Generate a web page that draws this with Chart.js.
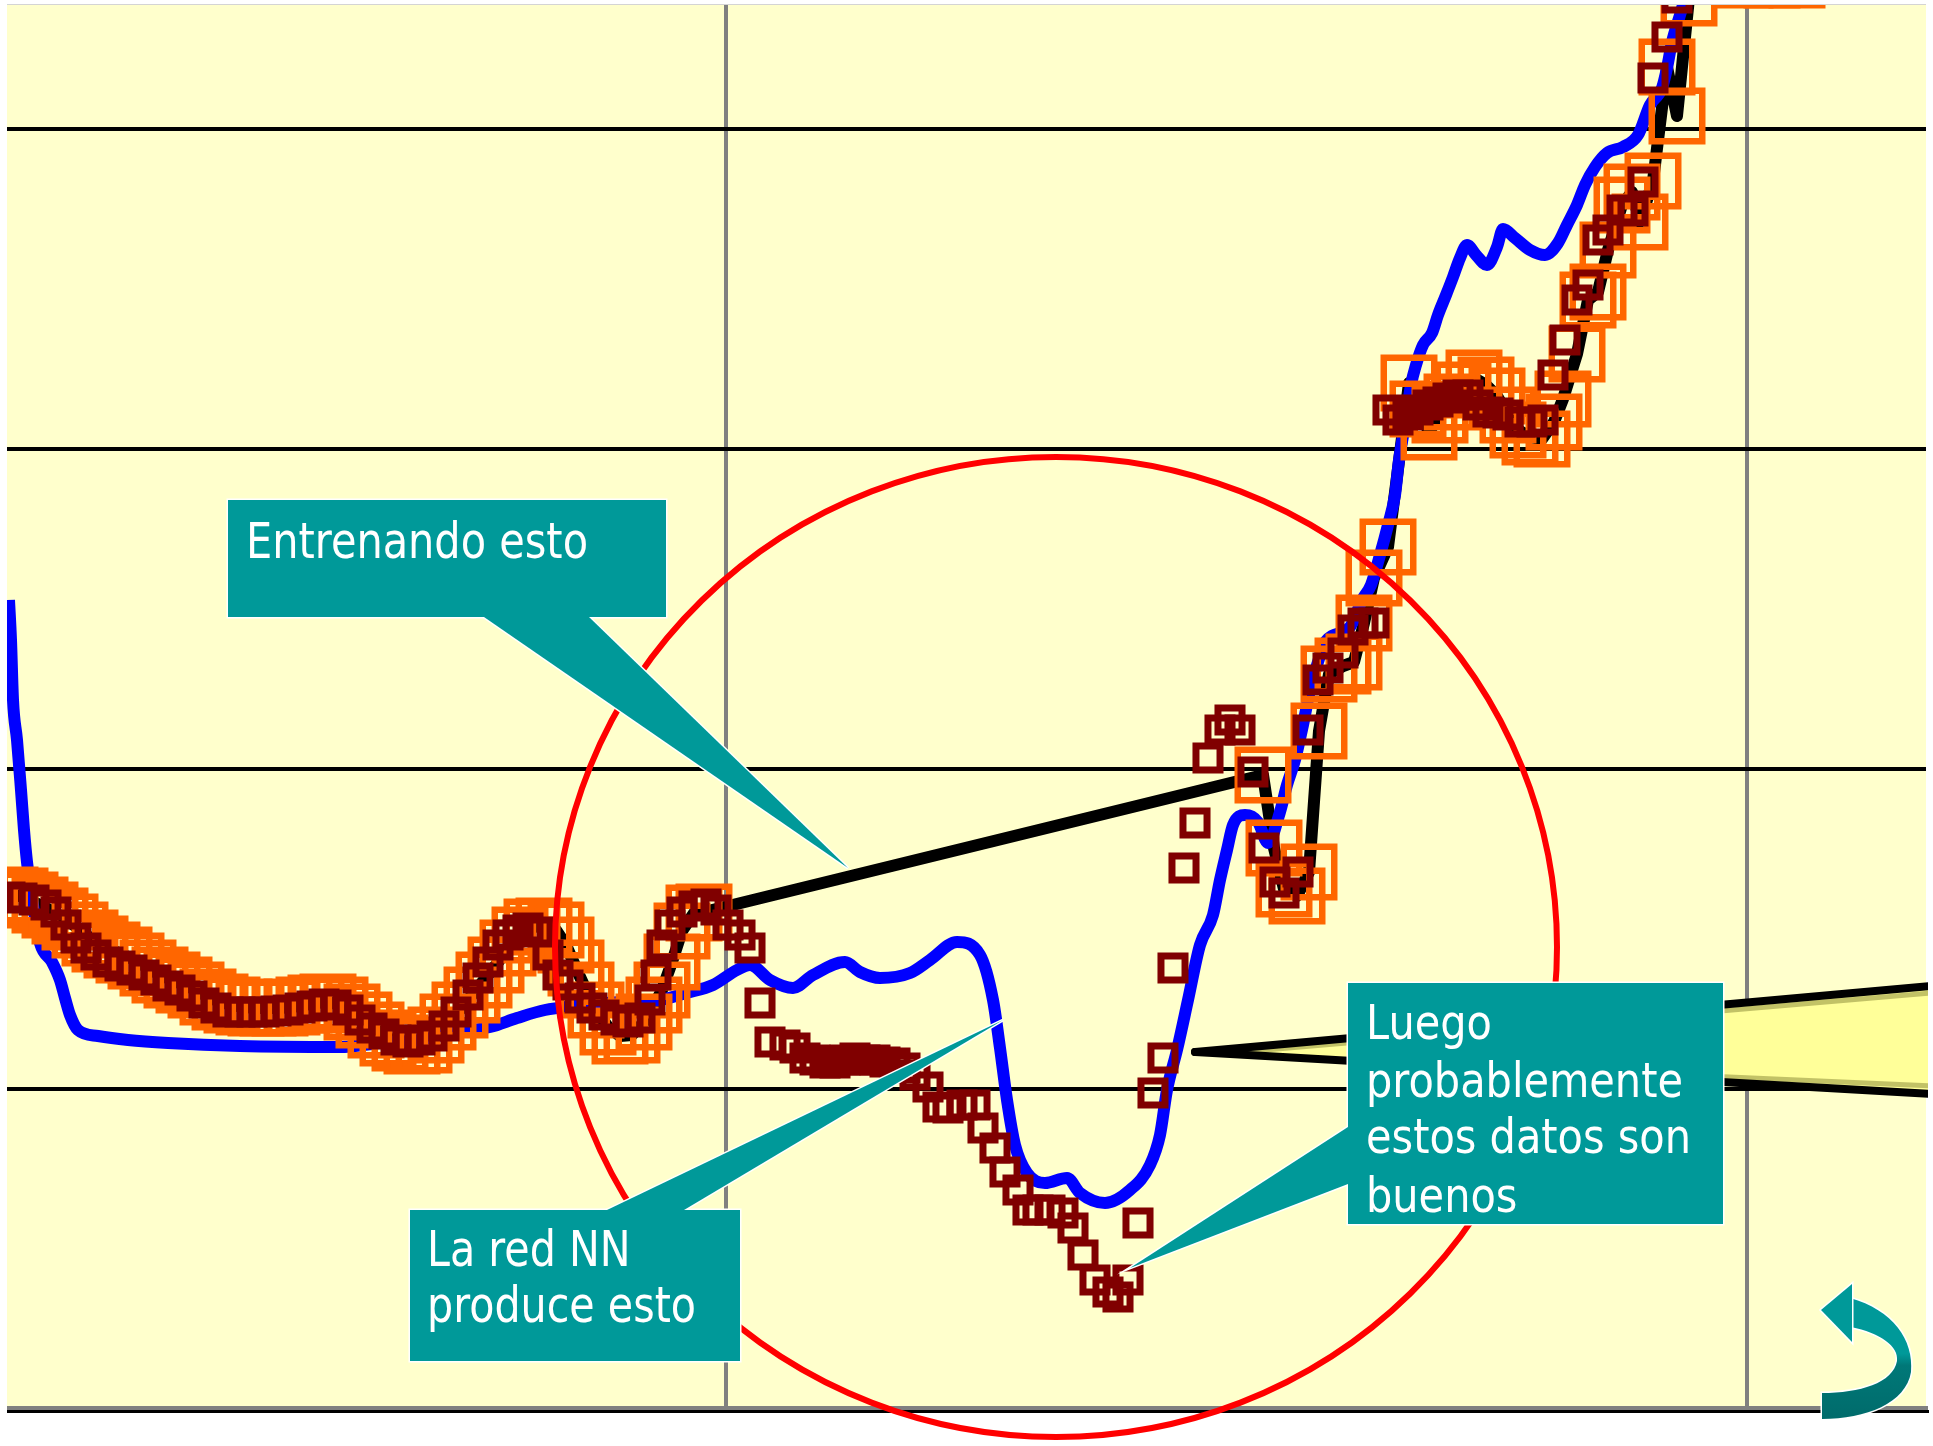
<!DOCTYPE html>
<html><head><meta charset="utf-8">
<script src="https://cdn.jsdelivr.net/npm/chart.js@4.4.1/dist/chart.umd.min.js"></script>
<style>html,body{margin:0;padding:0;background:#fff;overflow:hidden}#wrap{width:1933px;height:1446px;position:relative}</style>
</head><body><div id="wrap"><canvas id="c"></canvas></div>
<script>
// ---- data (x: time units, y: value units) ----
const blueLine = [[0.2,80.9],[0.4,76.9],[0.6,70.9],[1.0,66.9],[1.4,61.9],[1.7,57.9],[2.0,54.7],[2.6,50.4],[3.3,46.6],[4.5,44.7],[5.3,42.9],[5.8,41.1],[6.3,39.4],[7.1,37.9],[9.1,37.3],[12.1,36.9],[16.1,36.6],[23.3,36.3],[33.3,36.2],[37.3,36.6],[41.3,36.9],[45.0,37.7],[48.3,38.2],[51.0,39.1],[53.8,39.9],[56.8,40.3],[61.3,40.7],[65.3,40.9],[67.9,41.6],[70.6,42.4],[73.0,43.9],[74.3,44.4],[76.3,42.9],[78.6,42.1],[80.6,43.4],[83.8,44.7],[85.3,43.7],[87.3,43.1],[90.3,43.6],[92.3,44.9],[95.0,46.7],[97.3,45.4],[98.6,40.9],[99.3,36.1],[100.0,30.9],[100.8,26.4],[102.0,23.6],[103.8,22.6],[106.0,23.1],[107.3,21.6],[109.8,20.6],[112.3,21.9],[114.3,24.4],[115.3,27.4],[116.0,31.9],[117.0,35.9],[118.1,40.9],[119.3,46.4],[120.6,49.4],[121.3,52.9],[122.0,55.9],[122.6,58.4],[123.8,59.4],[125.1,58.7],[126.1,56.6],[127.3,59.7],[128.0,62.4],[128.8,64.9],[129.6,68.4],[130.3,71.9],[131.1,74.7],[131.8,76.7],[134.3,78.2],[135.5,80.9],[136.4,82.4],[137.3,85.4],[138.1,88.4],[138.8,91.4],[139.2,94.9],[139.8,98.4],[140.4,102.4],[140.9,104.4],[141.6,106.4],[142.5,107.6],[143.1,109.4],[143.9,111.4],[144.6,113.2],[145.3,115.1],[146.0,116.4],[146.9,115.4],[148.0,114.4],[149.0,116.2],[149.6,118.0],[150.8,117.1],[152.3,115.9],[153.8,115.4],[155.1,116.6],[156.0,118.4],[157.0,120.4],[157.8,122.4],[158.8,124.2],[160.0,125.6],[161.6,126.2],[163.1,127.4],[164.3,130.4],[165.5,132.1],[166.0,134.1],[166.5,136.7],[167.3,139.4],[167.9,141.4]];

const targetPoints = [[0.3,51.4],[1.3,51.3],[2.3,50.9],[3.3,50.4],[4.3,49.9],[5.3,49.3],[6.3,48.7],[7.3,47.9],[8.3,47.1],[9.3,46.5],[10.5,45.9],[11.7,45.4],[12.9,44.8],[14.1,44.1],[15.3,43.4],[16.5,42.9],[17.7,42.4],[18.9,41.9],[20.1,41.2],[21.3,40.7],[22.5,40.4],[23.7,40.2],[24.9,40.1],[26.1,40.1],[27.3,40.1],[28.5,40.2],[29.7,40.4],[30.9,40.6],[32.1,40.7],[33.3,40.4],[34.5,39.7],[35.7,38.9],[36.9,37.9],[38.1,37.1],[39.3,36.6],[40.5,36.3],[41.7,36.4],[42.9,37.4],[44.1,38.7],[45.3,39.9],[46.5,41.4],[47.7,42.9],[48.9,44.4],[50.1,46.1],[51.3,47.4],[52.5,48.2],[53.7,48.3],[54.9,47.9],[55.9,46.4],[56.9,44.1],[57.9,41.9],[58.9,39.9],[60.1,38.2],[61.3,37.3],[62.5,37.4],[63.7,38.7],[64.7,40.4],[65.5,41.9],[66.5,44.7],[67.5,47.8],[68.7,49.6],[69.7,49.7],
[125.6,63.4],[126.7,56.1],[127.7,52.0],[129.0,51.3],[130.2,53.7],[131.2,67.8],[132.2,73.5],[133.6,74.3],[134.7,74.7],[135.7,78.6],[136.7,83.1],[138.1,86.2],[140.2,102.6],[141.1,100.0],[142.2,97.7],[143.3,99.4],[144.5,100.7],[145.6,101.9],[146.7,103.1],[147.9,102.4],[149.0,101.3],[150.1,99.4],[151.1,97.9],[152.3,97.2],[153.5,97.0],[154.7,98.7],[155.6,101.0],[157.0,105.5],[158.1,110.9],[159.1,111.7],[160.1,115.9],[161.5,120.4],[162.5,121.7],[163.3,118.7],[164.6,122.8],[166.0,134.2],[167.0,129.3],[168.2,141.1],[173.8,142.9],[176.5,142.9],[179.0,142.9]];

const netOutput = [[0.3,51.2],[1.5,51.1],[2.7,50.9],[3.9,50.4],[4.9,49.7],[5.9,48.4],[6.9,47.1],[7.9,46.1],[8.9,45.4],[10.1,44.7],[11.3,44.3],[12.5,43.9],[13.7,43.4],[14.9,42.9],[16.1,42.3],[17.3,41.9],[18.5,41.3],[19.7,40.6],[20.9,40.1],[22.1,39.7],[23.3,39.7],[24.5,39.7],[25.7,39.7],[26.9,39.8],[28.1,39.9],[29.3,40.1],[30.5,40.3],[31.7,40.5],[32.9,40.4],[34.1,39.9],[35.3,38.9],[36.5,38.1],[37.7,37.5],[38.9,36.9],[40.1,36.7],[41.3,36.9],[42.5,37.3],[43.7,38.3],[44.9,39.7],[46.1,41.4],[47.1,43.1],[48.1,44.7],[49.1,46.4],[50.1,47.4],[51.1,47.9],[52.1,48.1],[53.1,47.7],[54.1,45.4],[55.1,43.4],[56.1,42.4],[57.3,41.1],[58.5,40.1],[59.7,39.4],[60.9,38.9],[62.1,38.7],[63.3,39.1],[64.3,40.9],[64.9,43.4],[65.5,46.4],[66.3,48.4],[67.5,49.7],[68.7,50.3],[69.9,50.5],[70.9,49.9],[72.1,48.4],[73.3,47.4],[74.3,46.1],
[75.3,40.6],[76.3,36.7],[77.8,36.4],[78.8,36.1],[79.8,35.1],[80.8,34.9],[81.8,34.6],[82.8,34.6],[83.8,34.9],[84.8,35.1],[85.8,34.9],[86.8,34.9],[87.8,34.7],[88.8,34.6],[89.8,34.1],[90.8,33.4],[92.1,32.2],[93.1,30.2],[94.1,30.1],[95.5,30.4],[96.8,30.4],[97.6,28.1],[98.8,26.1],[99.8,23.7],[101.1,21.9],[102.1,19.9],[103.1,19.9],[104.3,19.9],[105.6,19.6],[106.6,18.1],[107.6,15.4],[108.8,12.9],[110.1,11.7],[111.1,11.2],[112.1,12.9],[113.1,18.6],[114.6,31.6],[115.6,35.1],[116.6,44.1],[117.7,54.1],[118.8,58.6],[120.1,65.1],[121.3,67.9],[122.3,68.9],[123.3,67.9],[124.6,63.7],[125.7,56.1],[126.8,52.7],[127.7,51.6],[129.1,53.7],[130.1,67.9],[131.1,72.9],[132.1,74.1],[133.6,75.6],[134.6,77.9],[135.6,78.6],[136.7,78.6],
[138.1,99.9],[139.1,98.9],[140.1,99.4],[141.1,99.9],[142.1,100.4],[143.1,100.7],[144.1,101.1],[145.1,101.4],[146.1,101.4],[147.1,100.4],[148.1,99.7],[149.1,99.6],[150.1,99.4],[151.3,98.7],[152.5,98.7],[153.6,98.9],[154.6,103.4],[155.8,106.9],[157.0,110.9],[158.1,112.4],[159.1,116.9],[160.1,117.9],[161.5,119.9],[162.6,119.8],[163.6,122.7],[164.6,133.1],[166.0,137.2],[167.0,141.1]];

const xGridTicks = [71.9, 174.0];
const yGridTicks = [32, 64, 96, 128];
const calloutTraining = ["Entrenando esto"];
const calloutNetwork = ["La red NN", "produce esto"];
const calloutGood = ["Luego", "probablemente", "estos datos son", "buenos"];

const toXY = arr => arr.map(p => ({x: p[0], y: p[1]}));

// ---- decorative plugins ----
function callout(ctx, box, ptr, lines, tx, baselines, refIdx, refW, fontPx) {
  ctx.save();
  ctx.lineJoin = 'miter';
  ctx.strokeStyle = '#FFFFFF';
  ctx.lineWidth = 3;
  ctx.strokeRect(box[0], box[1], box[2]-box[0], box[3]-box[1]);
  ctx.beginPath(); ctx.moveTo(ptr[0][0], ptr[0][1]); ctx.lineTo(ptr[2][0], ptr[2][1]); ctx.lineTo(ptr[1][0], ptr[1][1]); ctx.stroke();
  ctx.fillStyle = '#009999';
  ctx.fillRect(box[0], box[1], box[2]-box[0], box[3]-box[1]);
  ctx.beginPath(); ctx.moveTo(ptr[0][0], ptr[0][1]); ctx.lineTo(ptr[2][0], ptr[2][1]); ctx.lineTo(ptr[1][0], ptr[1][1]); ctx.closePath(); ctx.fill();
  ctx.font = fontPx + 'px "DejaVu Sans"';
  ctx.fillStyle = '#FFFFFF';
  ctx.textBaseline = 'alphabetic';
  const sx = refW / ctx.measureText(lines[refIdx]).width;
  lines.forEach((t, i) => {
    ctx.save(); ctx.translate(tx, baselines[i]); ctx.scale(sx, 1); ctx.fillText(t, 0, 0); ctx.restore();
  });
  ctx.restore();
}

const framePlugin = {
  id: 'frame',
  beforeDraw(chart) {
    const {ctx, chartArea: a} = chart;
    ctx.save();
    ctx.fillStyle = '#FFFFCC';
    ctx.fillRect(a.left, a.top, a.right - a.left, a.bottom - a.top);
    ctx.restore();
  },
  beforeDatasetsDraw(chart) {
    const {ctx, chartArea: a} = chart;
    const y0 = Math.round(chart.scales.y.getPixelForValue(0));
    ctx.save();
    ctx.fillStyle = '#D4D4D4';
    ctx.fillRect(a.left, a.top - 1, a.right - a.left, 1);
    ctx.fillStyle = '#808080';
    ctx.fillRect(a.left, y0 - 3, a.right - a.left + 2, 4);
    ctx.fillStyle = '#000000';
    ctx.fillRect(a.left, y0 + 1, a.right - a.left + 3, 3);
    ctx.restore();
  },
  afterDatasetsDraw(chart) {
    const {ctx} = chart;
    ctx.save();
    // red circle
    ctx.beginPath();
    ctx.ellipse(1056, 947, 501, 490, 0, 0, Math.PI * 2);
    ctx.strokeStyle = '#FF0000';
    ctx.lineWidth = 6;
    ctx.stroke();
    // yellow beam
    ctx.save();
    ctx.beginPath(); ctx.rect(0, 0, 1928, 1446); ctx.clip();
    ctx.beginPath(); ctx.moveTo(1195, 1052); ctx.lineTo(1932, 986); ctx.lineTo(1932, 1094); ctx.closePath();
    ctx.fillStyle = '#FFFF99'; ctx.fill();
    ctx.lineCap = 'round';
    ctx.strokeStyle = 'rgba(120,120,40,0.45)'; ctx.lineWidth = 5;
    ctx.beginPath(); ctx.moveTo(1230, 1053); ctx.lineTo(1932, 993); ctx.stroke();
    ctx.beginPath(); ctx.moveTo(1230, 1055); ctx.lineTo(1932, 1086); ctx.stroke();
    ctx.strokeStyle = '#000000'; ctx.lineWidth = 8;
    ctx.beginPath(); ctx.moveTo(1195, 1052); ctx.lineTo(1932, 986); ctx.stroke();
    ctx.beginPath(); ctx.moveTo(1195, 1052); ctx.lineTo(1932, 1094); ctx.stroke();
    ctx.restore();
    // callouts
    callout(ctx, [228, 500, 666, 617], [[484, 617], [589, 617], [848, 868]], calloutTraining, 246, [558], 0, 342, 49);
    callout(ctx, [410, 1210, 740, 1361], [[607, 1210], [684, 1210], [1003, 1020]], calloutNetwork, 427, [1266, 1322], 1, 269, 49);
    callout(ctx, [1348, 983, 1723, 1224], [[1348, 1127], [1348, 1184], [1130, 1268]], calloutGood, 1366, [1039, 1097, 1153, 1212], 2, 325, 48);
    // return arrow icon
    ctx.beginPath();
    ctx.moveTo(1850, 1298);
    ctx.bezierCurveTo(1893, 1310, 1914, 1340, 1911, 1372);
    ctx.bezierCurveTo(1906, 1403, 1866, 1419, 1822, 1419);
    ctx.lineTo(1822, 1393);
    ctx.bezierCurveTo(1860, 1393, 1893, 1383, 1897, 1361);
    ctx.bezierCurveTo(1899, 1346, 1880, 1333, 1851, 1327);
    ctx.closePath();
    const g = ctx.createLinearGradient(0, 1300, 0, 1419);
    g.addColorStop(0, '#009999'); g.addColorStop(0.45, '#009999'); g.addColorStop(0.55, '#007878'); g.addColorStop(1, '#006B6B');
    ctx.strokeStyle = '#FFFFFF'; ctx.lineWidth = 3; ctx.stroke();
    ctx.fillStyle = g; ctx.fill();
    ctx.beginPath(); ctx.moveTo(1821, 1310); ctx.lineTo(1852, 1284); ctx.lineTo(1852, 1342); ctx.closePath();
    ctx.stroke();
    ctx.fillStyle = '#009999'; ctx.fill();
    ctx.restore();
  }
};

new Chart(document.getElementById('c'), {
  type: 'scatter',
  data: {
    datasets: [
      { label: 'Salida red NN', data: toXY(netOutput), showLine: false, pointStyle: 'rect',
        pointRadius: 17, pointHoverRadius: 17, pointBorderColor: '#800000', pointBackgroundColor: 'rgba(0,0,0,0)',
        pointBorderWidth: 7, pointHoverBorderWidth: 7, clip: 0 },
      { label: 'Datos', data: toXY(targetPoints), showLine: false, pointStyle: 'rect',
        pointRadius: 35.7, pointHoverRadius: 35.7, pointBorderColor: '#FF6600', pointBackgroundColor: 'rgba(0,0,0,0)',
        pointBorderWidth: 6.5, pointHoverBorderWidth: 6.5, clip: 0 },
      { label: 'Modelo', data: toXY(blueLine), showLine: true, borderColor: '#0000FF', borderWidth: 12,
        pointRadius: 0, pointHoverRadius: 0, cubicInterpolationMode: 'monotone', borderJoinStyle: 'round', clip: 0 },
      { label: 'Entrenamiento', data: toXY(targetPoints), showLine: true, borderColor: '#000000', borderWidth: 12,
        pointRadius: 0, pointHoverRadius: 0, tension: 0, borderJoinStyle: 'round', clip: 0 }
    ]
  },
  options: {
    responsive: true, maintainAspectRatio: false, animation: false, events: [],
    layout: { autoPadding: false, padding: { left: 7, right: 7, top: 5, bottom: 33 } },
    plugins: { legend: { display: false }, tooltip: { enabled: false } },
    scales: {
      x: { type: 'linear', min: 0, max: 191.9,
        ticks: { display: false }, border: { display: false },
        grid: { color: '#808080', lineWidth: 4, drawTicks: false },
        afterBuildTicks: s => { s.ticks = xGridTicks.map(v => ({ value: v })); },
        afterFit: s => { s.height = 0; } },
      y: { type: 'linear', min: -0.4, max: 140.4,
        ticks: { display: false }, border: { display: false },
        grid: { color: '#000000', lineWidth: 4, drawTicks: false },
        afterBuildTicks: s => { s.ticks = yGridTicks.map(v => ({ value: v })); },
        afterFit: s => { s.width = 0; } }
    }
  },
  plugins: [framePlugin]
});
</script>
</body></html>
